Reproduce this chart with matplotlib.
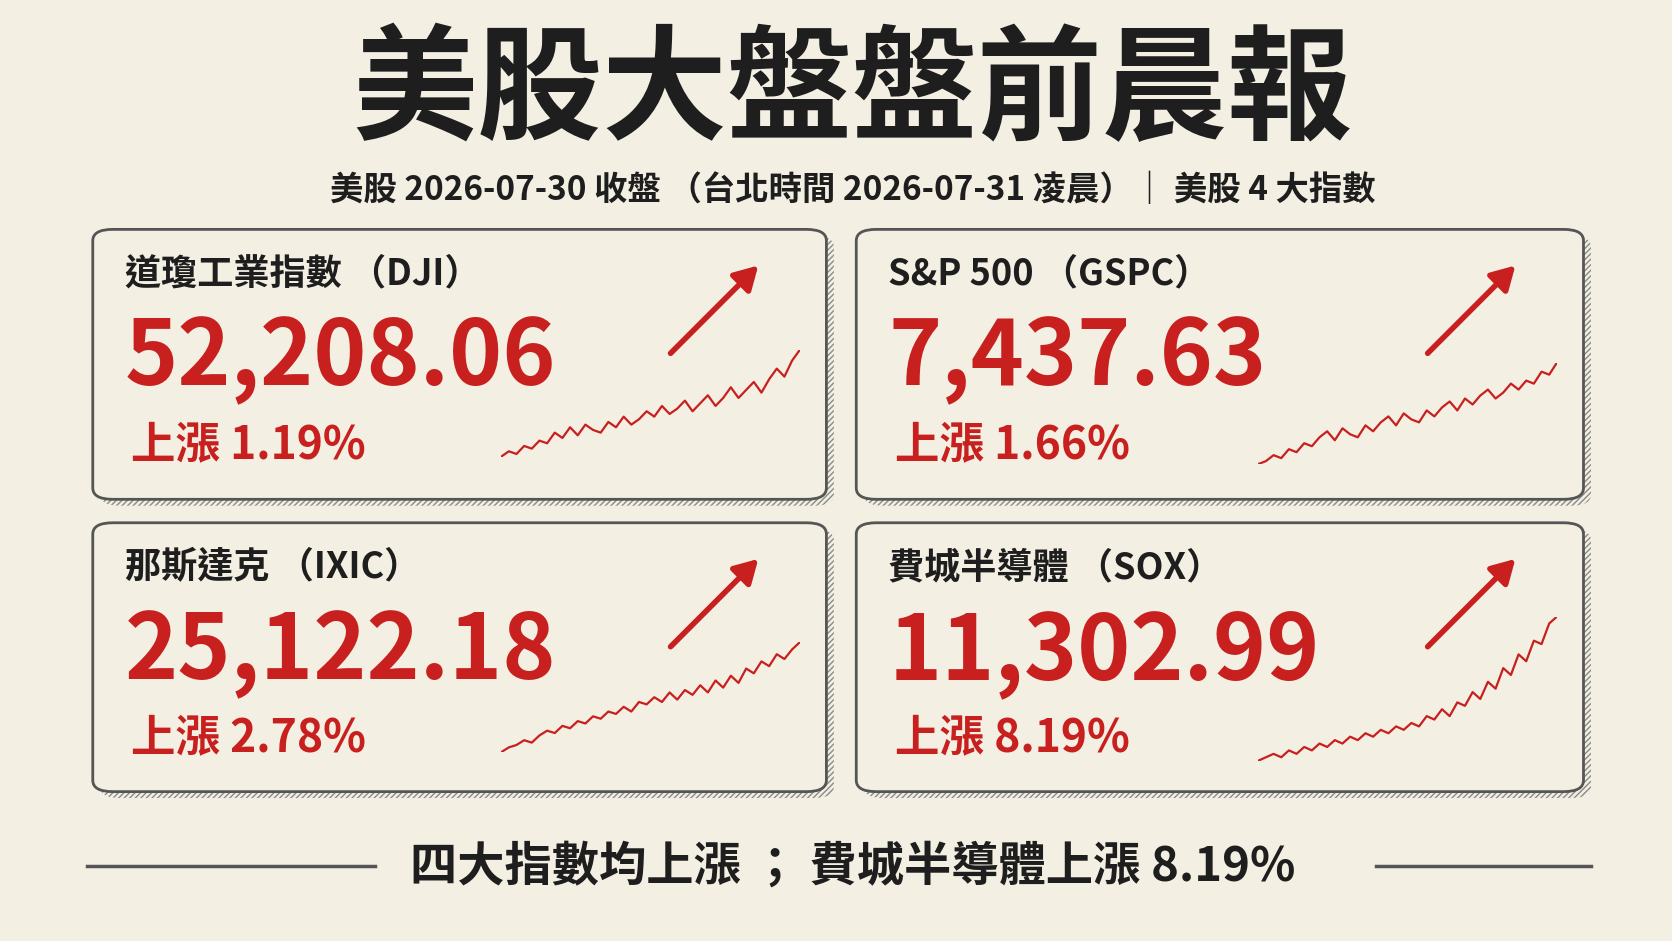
import matplotlib
matplotlib.use("Agg")
import matplotlib.pyplot as plt
from matplotlib.patches import FancyBboxPatch

plt.rcParams['font.family'] = ['Noto Sans CJK TC', 'DejaVu Sans']

title = "美股大盤盤前晨報"
subtitle = "美股 2026-07-30 收盤 （台北時間 2026-07-31 凌晨）｜ 美股 4 大指數"
footer = "四大指數均上漲 ； 費城半導體上漲 8.19%"

names = ["道瓊工業指數 （DJI）", "S&P 500 （GSPC）", "那斯達克 （IXIC）", "費城半導體 （SOX）"]
values = ["52,208.06", "7,437.63", "25,122.18", "11,302.99"]
changes = ["上漲 1.19%", "上漲 1.66%", "上漲 2.78%", "上漲 8.19%"]

# sparkline shapes
spark_dji = [0, 2, 1, 4, 3, 6, 5, 9, 7, 11, 8, 12, 10, 9, 13, 11, 15, 12, 14, 17, 15,
             19, 16, 18, 21, 17, 20, 23, 19, 22, 26, 22, 25, 28, 24, 29, 33, 30, 36, 40]
spark_gspc = [0, 1, 3, 2, 5, 4, 7, 6, 9, 11, 8, 12, 10, 9, 13, 11, 14, 16, 13, 17, 15,
              14, 18, 16, 19, 21, 18, 22, 20, 23, 25, 22, 24, 27, 25, 28, 27, 31, 30, 34]
spark_ixic = [0, 2, 3, 5, 4, 7, 9, 8, 11, 10, 13, 12, 15, 14, 17, 16, 19, 17, 21, 20,
              23, 21, 25, 22, 26, 24, 28, 25, 30, 27, 32, 29, 35, 33, 38, 36, 41, 39, 43, 46]
spark_sox = [0, 1, 2, 1, 3, 2, 4, 3, 5, 4, 6, 5, 7, 6, 8, 7, 9, 8, 10, 9,
             11, 10, 13, 12, 15, 13, 17, 16, 20, 18, 23, 21, 27, 25, 31, 29, 35, 34, 40, 42]
sparks = [spark_dji, spark_gspc, spark_ixic, spark_sox]
spark_tops = [328, 340, 602, 578]   # y of sparkline top in picture units
spark_bots = [428, 435, 705, 713]

W, H = 1568, 882
RED = "#c8201e"
INK = "#1e1e1e"

fig = plt.figure(figsize=(16.72, 9.41), dpi=100)
fig.patch.set_facecolor("#f3efe3")

def fx(x): return x / W
def fy(y): return 1 - y / H

fig.text(0.51, fy(88), title, ha="center", va="center", fontsize=90, weight="bold", color=INK)
fig.text(0.51, fy(178), subtitle, ha="center", va="center", fontsize=24, weight="bold", color=INK)

boxes = [(87, 215, 775, 468), (803, 215, 1485, 468), (87, 490, 775, 742), (803, 490, 1485, 742)]
for i, (x0, y0, x1, y1) in enumerate(boxes):
    sh = FancyBboxPatch((fx(x0 + 7), fy(y1 + 6)), fx(x1 - x0), (y1 - y0) / H,
                        boxstyle="round,pad=0,rounding_size=0.012", transform=fig.transFigure,
                        facecolor="none", edgecolor="#8a8a8a", hatch="//////", lw=0)
    fig.patches.append(sh)
    bx = FancyBboxPatch((fx(x0), fy(y1)), fx(x1 - x0), (y1 - y0) / H,
                        boxstyle="round,pad=0,rounding_size=0.012", transform=fig.transFigure,
                        facecolor="#f3efe3", edgecolor="#555555", lw=2)
    fig.patches.append(bx)
    fig.text(fx(x0 + 30), fy(y0 + 42), names[i], ha="left", va="center", fontsize=26,
             weight="bold", color=INK)
    fig.text(fx(x0 + 30), fy(y0 + 122), values[i], ha="left", va="center", fontsize=65,
             weight="bold", color=RED)
    fig.text(fx(x0 + 36), fy(y0 + 202), changes[i], ha="left", va="center", fontsize=32,
             weight="bold", color=RED)
    ax = fig.add_axes([fx(x1 - 305), fy(spark_bots[i]), fx(280),
                       (spark_bots[i] - spark_tops[i]) / H], zorder=5)
    ax.plot(range(len(sparks[i])), sparks[i], color=RED, lw=1.6)
    ax.margins(0)
    ax.axis("off")
    fig.patches.append(matplotlib.patches.FancyArrowPatch(
        (fx(x1 - 148), fy(y0 + 118)), (fx(x1 - 62), fy(y0 + 32)),
        transform=fig.transFigure, arrowstyle="-|>,head_length=14,head_width=8",
        color=RED, lw=4))

fig.text(0.51, fy(812), footer, ha="center", va="center", fontsize=34, weight="bold", color=INK)
fig.add_artist(plt.Line2D([fx(82), fx(352)], [fy(812)] * 2, color="#555555", lw=2.5))
fig.add_artist(plt.Line2D([fx(1290), fx(1492)], [fy(812)] * 2, color="#555555", lw=2.5))

fig.savefig("out.png", dpi=100, facecolor=fig.get_facecolor())
